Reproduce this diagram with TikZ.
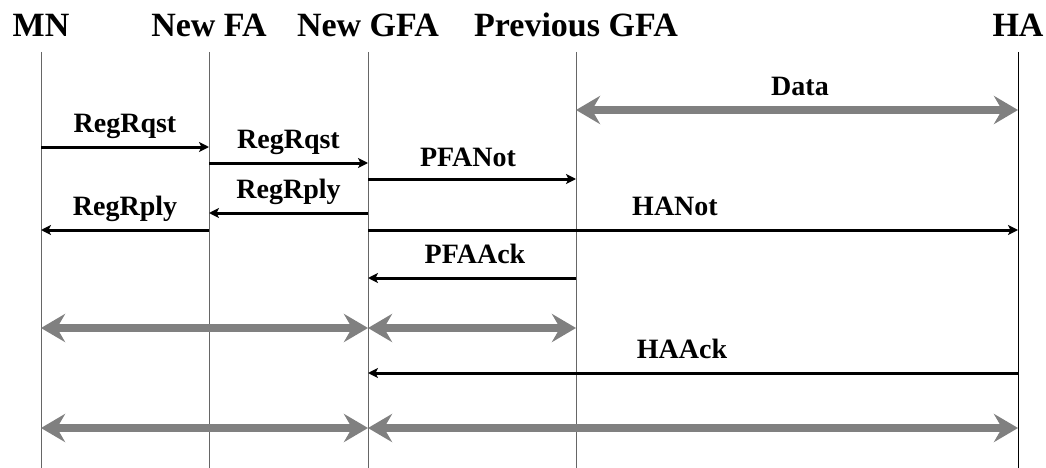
\documentclass[tikz,border=0pt]{standalone}
\usepackage{fontspec}
\setmainfont{Liberation Serif}
\usetikzlibrary{arrows.meta}

\begin{document}
\begin{tikzpicture}[x=1pt,y=-1pt,
  head/.style={font=\bfseries\fontsize{34}{40}\selectfont, anchor=base, inner sep=0pt},
  lbl/.style={font=\bfseries\fontsize{28}{32}\selectfont, midway, anchor=base, inner sep=0pt, yshift=15pt},
  life/.style={line width=1pt, black!60},
  msg/.style={line width=3pt, -{Stealth[length=10pt,width=10pt,inset=2.5pt]}},
  bulk/.style={line width=8pt, gray, {Stealth[length=24pt,width=28pt,inset=8pt]}-{Stealth[length=24pt,width=28pt,inset=8pt]}}]
\useasboundingbox (0,0) rectangle (1046,468);

\node[head] (mn)  at (41,37)   {MN};
\node[head] (nfa) at (209,37)  {New FA};
\node[head] (ngfa) at (368,37) {New GFA};
\node[head] (pgfa) at (576,37) {Previous GFA};
\node[head] (ha)  at (1018,37) {HA};

\coordinate (top) at (0,52);
\coordinate (bot) at (0,468);
\coordinate (rdata) at (0,110);
\coordinate (r1) at (0,147);
\coordinate (r2) at (0,163);
\coordinate (r3) at (0,179);
\coordinate (r4) at (0,213);
\coordinate (r5) at (0,230);
\coordinate (r6) at (0,278);
\coordinate (r7) at (0,328);
\coordinate (r8) at (0,373);
\coordinate (r9) at (0,428);

\foreach \n in {mn,nfa,ngfa,pgfa}
  \draw[life] (\n |- top) -- (\n |- bot);
\draw[life,black] (ha |- top) -- (ha |- bot);

\draw[bulk] (pgfa |- rdata) -- node[lbl,xshift=3pt,yshift=-1pt,black] {Data} (ha |- rdata);
\draw[msg] (mn |- r1) -- node[lbl] {RegRqst} (nfa |- r1);
\draw[msg] (nfa |- r2) -- node[lbl] {RegRqst} (ngfa |- r2);
\draw[msg] (ngfa |- r3) -- node[lbl,xshift=-4pt,yshift=-2pt] {PFANot} (pgfa |- r3);
\draw[msg] (ngfa |- r4) -- node[lbl] {RegRply} (nfa |- r4);
\draw[msg] (nfa |- r5) -- node[lbl] {RegRply} (mn |- r5);
\draw[msg] (ngfa |- r5) -- node[lbl,xshift=-18pt] {HANot} (ha |- r5);
\draw[msg] (pgfa |- r6) -- node[lbl,xshift=3pt] {PFAAck} (ngfa |- r6);
\draw[bulk] (mn |- r7) -- (ngfa |- r7);
\draw[bulk] (ngfa |- r7) -- (pgfa |- r7);
\draw[msg] (ha |- r8) -- node[lbl,xshift=-11pt] {HAAck} (ngfa |- r8);
\draw[bulk] (mn |- r9) -- (ngfa |- r9);
\draw[bulk] (ngfa |- r9) -- (ha |- r9);
\end{tikzpicture}
\end{document}
